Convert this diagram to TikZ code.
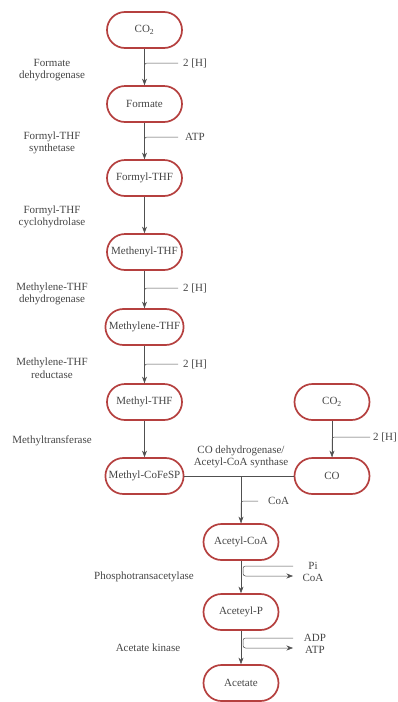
\documentclass[tikz,border=0pt]{standalone}
\usepackage{fontspec}
\setmainfont{Liberation Serif}
\usetikzlibrary{arrows.meta,calc}
\definecolor{boxred}{HTML}{B5403F}
\definecolor{txt}{HTML}{454545}
\definecolor{ln}{HTML}{505050}
\begin{document}
\begin{tikzpicture}[x=1pt,y=-1pt,
  met/.style={draw=boxred,line width=1.7pt,rounded corners=18pt,minimum width=75pt,minimum height=36pt,
    text=txt,font=\fontsize{11}{13}\selectfont,fill=white},
  enz/.style={text=txt,align=center,font=\fontsize{11}{12.5}\selectfont,inner sep=0pt},
  side/.style={text=txt,font=\fontsize{11}{12}\selectfont,inner sep=0pt},
  flow/.style={draw=ln,line width=0.6pt,-{Stealth[length=6.5pt,width=5pt]}},
  feed/.style={draw=ln,line width=0.5pt,rounded corners=2.5pt},
  outarrow/.style={draw=ln,line width=0.5pt,rounded corners=2.5pt,-{Stealth[length=6.5pt,width=5pt]}}]
\useasboundingbox (0,0) rectangle (397,702);
% metabolites
\node[met] (co2a) at (144.5,30) {CO\textsubscript{2}};
\node[met] (formate) at (144.5,104) {Formate};
\node[met] (formyl) at (144.5,178) {Formyl-THF};
\node[met] (methenyl) at (144.5,252) {Methenyl-THF};
\node[met] (methylene) at (144.5,327) {Methylene-THF};
\node[met] (methylthf) at (144.5,402) {Methyl-THF};
\node[met] (methylco) at (144.5,476) {Methyl-CoFeSP};
\node[met] (co2b) at (332,402) {CO\textsubscript{2}};
\node[met] (co) at (332,476) {CO};
\node[met] (acetylcoa) at (241,542) {Acetyl-CoA};
\node[met] (acetylp) at (241,612) {Aceteyl-P};
\node[met] (acetate) at (241,683) {Acetate};
% enzymes
\node[enz] (e1) at (52,70) {Formate\\dehydrogenase};
\node[enz] (e2) at (52,143) {Formyl-THF\\synthetase};
\node[enz] (e3) at (52,217) {Formyl-THF\\cyclohydrolase};
\node[enz] (e4) at (52,294) {Methylene-THF\\dehydrogenase};
\node[enz] (e5) at (52,368) {Methylene-THF\\reductase};
\node[enz] (e6) at (52,441) {Methyltransferase};
\node[enz] (e7) at (241,457) {CO dehydrogenase/\\Acetyl-CoA synthase};
\node[enz] (e8) at (144,577) {Phosphotransacetylase};
\node[enz] (e9) at (148,648) {Acetate kinase};
% main arrows
\draw[flow] (co2a) -- (formate);
\draw[flow] (formate) -- (formyl);
\draw[flow] (formyl) -- (methenyl);
\draw[flow] (methenyl) -- (methylene);
\draw[flow] (methylene) -- (methylthf);
\draw[flow] (methylthf) -- (methylco);
\draw[flow] (co2b) -- (co);
\draw[draw=ln,line width=0.6pt] (methylco) -- (co);
\coordinate (mid) at (241,476);
\draw[flow] (mid) -- (acetylcoa);
\draw[flow] (acetylcoa) -- (acetylp);
\draw[flow] (acetylp) -- (acetate);
% side inputs
\coordinate (i1) at (178,63);
\node[side,anchor=west] (l1) at (183,63) {2 [H]};
\draw[feed] (i1) -| (formate.north);
\coordinate (i2) at (178,137);
\node[side,anchor=west] (l2) at (185,137) {ATP};
\draw[feed] (i2) -| (formyl.north);
\coordinate (i3) at (178,288);
\node[side,anchor=west] (l3) at (183,288) {2 [H]};
\draw[feed] (i3) -| (methylene.north);
\coordinate (i4) at (178,364);
\node[side,anchor=west] (l4) at (183,364) {2 [H]};
\draw[feed] (i4) -| (methylthf.north);
\coordinate (i5) at (370,437);
\node[side,anchor=west] (l5) at (373,437) {2 [H]};
\draw[feed] (i5) -| (co.north);
\coordinate (i6) at (258,501);
\node[side,anchor=west] (l6) at (268,501) {CoA};
\draw[feed] (i6) -| (acetylcoa.north);
% Pi / CoA
\coordinate (i7) at (293,566);
\coordinate (o7) at (293,576);
\coordinate (b7) at (243,571);
\node[side] (l7) at (313,566) {Pi};
\node[side] (l8) at (313,578) {CoA};
\draw[feed] (i7) -| (b7);
\draw[outarrow] (b7) |- (o7);
% ADP / ATP
\coordinate (i8) at (293,638);
\coordinate (o8) at (293,648);
\coordinate (b8) at (243,643);
\node[side] (l9) at (315,638) {ADP};
\node[side] (l10) at (315,650) {ATP};
\draw[feed] (i8) -| (b8);
\draw[outarrow] (b8) |- (o8);
\end{tikzpicture}
\end{document}
